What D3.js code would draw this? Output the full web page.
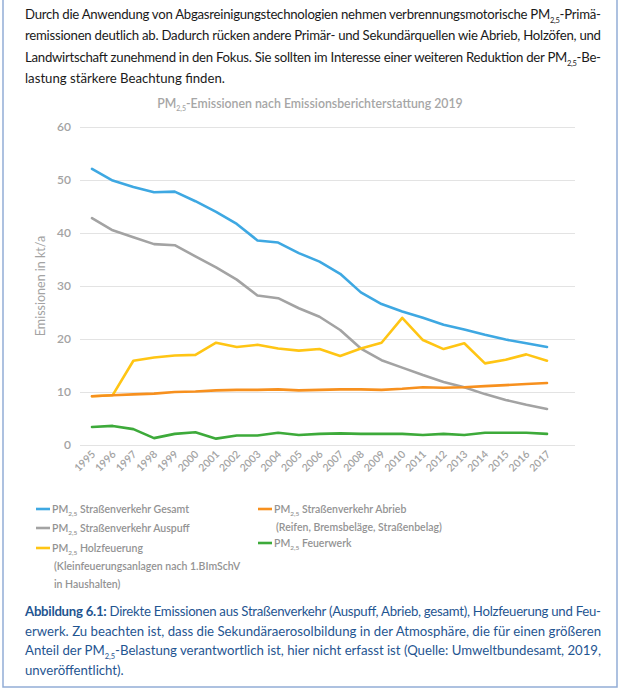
<!DOCTYPE html>
<html>
<head>
<meta charset="utf-8">
<script src="https://cdn.jsdelivr.net/npm/d3@7"></script>
<style>
  html, body { margin: 0; padding: 0; background: #fff; }
  svg { display: block; font-family: Lato, "Open Sans", sans-serif; }
</style>
</head>
<body>
<div id="chart"></div>
<script>
// Data (kt/a)
const years = ['1995', '1996', '1997', '1998', '1999', '2000', '2001', '2002', '2003', '2004', '2005', '2006',
    '2007', '2008', '2009', '2010', '2011', '2012', '2013', '2014', '2015', '2016', '2017'];
const gesamt = [52.1, 49.9, 48.7, 47.7, 47.8, 46.0, 44.0, 41.7, 38.6, 38.2, 36.2, 34.6,
    32.3, 28.8, 26.6, 25.2, 24.0, 22.7, 21.8, 20.8, 19.9, 19.2, 18.5];
const auspuff = [42.8, 40.5, 39.2, 37.9, 37.7, 35.6, 33.5, 31.2, 28.2, 27.7, 25.8, 24.2,
    21.7, 18.2, 16.0, 14.6, 13.2, 11.9, 10.9, 9.6, 8.5, 7.6, 6.8];
const holz = [9.2, 9.4, 15.9, 16.5, 16.9, 17.0, 19.3, 18.5, 18.9, 18.2, 17.8, 18.1,
    16.8, 18.2, 19.3, 24.0, 19.8, 18.1, 19.2, 15.4, 16.1, 17.1, 15.9];
const abrieb = [9.2, 9.4, 9.55, 9.7, 10.0, 10.1, 10.3, 10.4, 10.4, 10.5, 10.3, 10.4,
    10.5, 10.5, 10.4, 10.6, 10.9, 10.8, 10.9, 11.1, 11.3, 11.5, 11.7];
const feuerwerk = [3.4, 3.6, 3.0, 1.3, 2.1, 2.4, 1.2, 1.8, 1.8, 2.3, 1.9, 2.1,
    2.2, 2.1, 2.1, 2.1, 1.9, 2.1, 1.9, 2.3, 2.3, 2.3, 2.1];
const yTicks = [0, 10, 20, 30, 40, 50, 60];

const series = [
    { name: 'gesamt', values: gesamt, color: '#3ea8e2' },
    { name: 'auspuff', values: auspuff, color: '#a3a3a3' },
    { name: 'holz', values: holz, color: '#ffc514' },
    { name: 'abrieb', values: abrieb, color: '#f7901e' },
    { name: 'feuerwerk', values: feuerwerk, color: '#3daa3a' }
];

// legend entries: series key, text lines, column, y of the marker
const legendItems = [
    { key: 'gesamt', lines: ['PM_{2,5} Straßenverkehr Gesamt'], col: 0, y: 509 },
    { key: 'auspuff', lines: ['PM_{2,5} Straßenverkehr Auspuff'], col: 0, y: 528 },
    { key: 'holz', lines: ['PM_{2,5} Holzfeuerung', '(Kleinfeuerungsanlagen nach 1.BImSchV', 'in Haushalten)'], col: 0, y: 548 },
    { key: 'abrieb', lines: ['PM_{2,5} Straßenverkehr Abrieb', '(Reifen, Bremsbeläge, Straßenbelag)'], col: 1, y: 509 },
    { key: 'feuerwerk', lines: ['PM_{2,5} Feuerwerk'], col: 1, y: 543 }
];

const introLines = [
    'Durch die Anwendung von Abgasreinigungstechnologien nehmen verbrennungsmotorische PM_{2,5}-Primä-',
    'remissionen deutlich ab. Dadurch rücken andere Primär- und Sekundärquellen wie Abrieb, Holzöfen, und',
    'Landwirtschaft zunehmend in den Fokus. Sie sollten im Interesse einer weiteren Reduktion der PM_{2,5}-Be-',
    'lastung stärkere Beachtung finden.'
];
const captionLines = [
    '**Abbildung 6.1:** Direkte Emissionen aus Straßenverkehr (Auspuff, Abrieb, gesamt), Holzfeuerung und Feu-',
    'erwerk. Zu beachten ist, dass die Sekundäraerosolbildung in der Atmosphäre, die für einen größeren',
    'Anteil der PM_{2,5}-Belastung verantwortlich ist, hier nicht erfasst ist (Quelle: Umweltbundesamt, 2019,',
    'unveröffentlicht).'
];

const W = 620, H = 689;
const svg = d3.select('#chart').append('svg')
    .attr('width', W).attr('height', H);

svg.append('rect').attr('width', W).attr('height', H).attr('fill', '#fff');

// writes a string with _{sub} and **bold** markers into a text element
function richText(sel, str, subSize, shift = 4) {
    const parts = str.split(/(_\{[^}]*\}|\*\*[^*]*\*\*)/).filter(p => p !== '');
    let shifted = false;
    parts.forEach(p => {
        const t = sel.append('tspan');
        if (p.startsWith('_{')) {
            t.text(p.slice(2, -1)).attr('font-size', subSize).attr('dy', shift);
            shifted = true;
        } else {
            if (shifted) { t.attr('dy', -shift); shifted = false; }
            if (p.startsWith('**')) t.text(p.slice(2, -2)).attr('font-weight', 700);
            else t.text(p);
        }
    });
    return sel;
}

// frame
svg.append('path')
    .attr('d', 'M3,0 V687 H617 V0')
    .attr('fill', 'none')
    .attr('stroke', '#92add6')
    .attr('stroke-width', 1.5);

// intro paragraph (justified)
introLines.forEach((line, i) => {
    const t = svg.append('text')
        .attr('x', 25).attr('y', 19 + i * 21.3)
        .attr('font-size', 13.2)
        .attr('fill', '#1a1a1a');
    richText(t, line, 7.5);
    if (i < introLines.length - 1) t.attr('textLength', 576).attr('lengthAdjust', 'spacing');
});

// chart
const x = d3.scalePoint().domain(years).range([92, 547]);
const y = d3.scaleLinear().domain([0, 60]).range([445, 127]);
const gridX0 = 80, gridX1 = 575;

const title = svg.append('text')
    .attr('x', 310).attr('y', 108)
    .attr('text-anchor', 'middle')
    .attr('font-size', 12.3)
    .attr('font-weight', 600)
    .attr('fill', '#a6a6a6');
richText(title, 'PM_{2,5}-Emissionen nach Emissionsberichterstattung 2019', 7, 3);

// y axis: gridlines + labels
svg.append('g')
    .attr('transform', `translate(${gridX0},0)`)
    .call(d3.axisLeft(y).tickValues(yTicks).tickSize(-(gridX1 - gridX0)).tickPadding(9))
    .call(g => g.select('.domain').remove())
    .call(g => g.selectAll('line').attr('stroke', '#e3e3e3').attr('stroke-width', 1.2))
    .call(g => g.selectAll('text')
        .attr('fill', '#a3a3a3')
        .attr('font-size', 12)
        .attr('font-weight', 600)
        .attr('font-family', 'Lato, sans-serif'));

svg.append('text')
    .attr('transform', 'translate(45,286) rotate(-90)')
    .attr('text-anchor', 'middle')
    .attr('font-size', 12.5)
    .attr('fill', '#a3a3a3')
    .text('Emissionen in kt/a');

// x axis labels, rotated
svg.append('g')
    .selectAll('text')
    .data(years)
    .join('text')
    .attr('transform', d => `translate(${x(d) + 4},${455}) rotate(-45)`)
    .attr('text-anchor', 'end')
    .attr('font-size', 10.5)
    .attr('font-weight', 600)
    .attr('fill', '#a3a3a3')
    .text(d => d);

// lines
const line = d3.line()
    .x((d, i) => x(years[i]))
    .y(d => y(d));

svg.append('g')
    .selectAll('path')
    .data(series)
    .join('path')
    .attr('d', d => line(d.values))
    .attr('fill', 'none')
    .attr('stroke', d => d.color)
    .attr('stroke-width', 2.6)
    .attr('stroke-linejoin', 'round')
    .attr('stroke-linecap', 'round');

// legend
const colorOf = new Map(series.map(s => [s.name, s.color]));
const legendCols = [36, 258];
const legend = svg.append('g');
legendItems.forEach(item => {
    const lx = legendCols[item.col];
    legend.append('line')
        .attr('x1', lx).attr('x2', lx + 14)
        .attr('y1', item.y).attr('y2', item.y)
        .attr('stroke', colorOf.get(item.key))
        .attr('stroke-width', 2.6);
    item.lines.forEach((ln, j) => {
        const t = legend.append('text')
            .attr('x', j === 0 ? lx + 16 : lx + 18)
            .attr('y', item.y + 4 + j * 18)
            .attr('font-size', 10.5)
            .attr('font-weight', 600)
            .attr('fill', '#939393');
        richText(t, ln, 6.5, 3);
    });
});

// caption (justified)
captionLines.forEach((line, i) => {
    const t = svg.append('text')
        .attr('x', 25).attr('y', 616 + i * 19.7)
        .attr('font-size', 13.2)
        .attr('fill', '#1f5591');
    richText(t, line, 7.5);
    if (i < captionLines.length - 1) t.attr('textLength', 576).attr('lengthAdjust', 'spacing');
});
</script>
</body>
</html>
